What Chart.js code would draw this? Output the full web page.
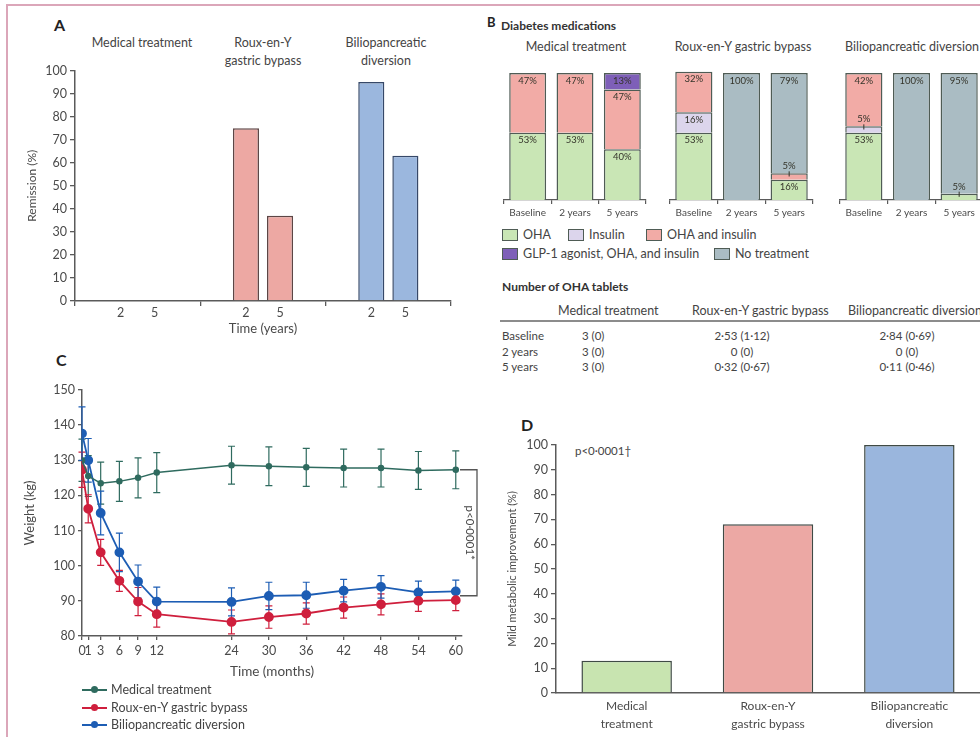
<!DOCTYPE html>
<html>
<head>
<meta charset="utf-8">
<script src="https://cdn.jsdelivr.net/npm/chart.js@4.4.0/dist/chart.umd.min.js"></script>
<style>
  body { margin: 0; background: #fff; overflow: hidden; }
  #fig { position: relative; width: 980px; height: 737px; overflow: hidden; font-family: Lato, 'Liberation Sans', sans-serif; color: #444; }
  .frame { position: absolute; left: 6px; top: 4px; width: 1000px; height: 800px; border-top: 2px solid #dba6b9; border-left: 2px solid #dba6b9; }
  canvas { position: absolute; }
  .t { position: absolute; white-space: nowrap; font-size: 12.5px; line-height: 14px; }
  .c { transform: translateX(-50%); text-align: center; }
  .letter { font-weight: bold; font-size: 16px; line-height: 18px; color: #222; }
  .bold { font-weight: bold; color: #333; }
  .box { position: absolute; width: 14px; height: 10px; border: 1.5px solid #4f5c55; }
  .tbl { font-size: 11.5px; line-height: 15.5px; }
  .rule { position: absolute; left: 500px; top: 320px; width: 480px; height: 2px; background: #8c8c8c; }
  .lg { position: absolute; left: 82px; width: 25px; height: 2px; }
  .lg i { position: absolute; left: 9px; top: -3px; width: 7px; height: 7px; border-radius: 50%; }
</style>
</head>
<body>
<div id="fig">
  <div class="frame"></div>

  <!-- A -->
  <div class="t letter" style="left:54px;top:16px">A</div>
  <div class="t c" style="left:142px;top:34px;line-height:18px">Medical treatment</div>
  <div class="t c" style="left:263px;top:34px;line-height:18px">Roux-en-Y<br>gastric bypass</div>
  <div class="t c" style="left:386px;top:34px;line-height:18px">Biliopancreatic<br>diversion</div>
  <canvas id="chartA" width="470" height="280" style="left:0;top:60px"></canvas>

  <!-- B -->
  <div class="t letter" style="left:487px;top:13px;font-size:13px">B</div>
  <div class="t bold" style="left:501px;top:19px;font-size:12px">Diabetes medications</div>
  <div class="t c" style="left:576px;top:40px">Medical treatment</div>
  <div class="t c" style="left:743px;top:40px">Roux-en-Y gastric bypass</div>
  <div class="t c" style="left:912px;top:40px">Biliopancreatic diversion</div>
  <canvas id="chartB1" width="150" height="160" style="left:500px;top:65px"></canvas>
  <canvas id="chartB2" width="151" height="160" style="left:666px;top:65px"></canvas>
  <canvas id="chartB3" width="151" height="160" style="left:836px;top:65px"></canvas>
  <div id="legendB"></div>

  <div class="t bold" style="left:502px;top:280px;font-size:12px">Number of OHA tablets</div>
  <div class="t" style="left:558px;top:304px">Medical treatment</div>
  <div class="t" style="left:692px;top:304px">Roux-en-Y gastric bypass</div>
  <div class="t" style="left:848px;top:304px">Biliopancreatic diversion</div>
  <div class="rule"></div>
  <div id="tableB"></div>

  <!-- C -->
  <div class="t letter" style="left:56px;top:351px">C</div>
  <canvas id="chartC" width="490" height="320" style="left:0;top:370px"></canvas>
  <div id="legendC"></div>

  <!-- D -->
  <div class="t letter" style="left:521px;top:416px">D</div>
  <div class="t" style="left:575px;top:444px;font-size:11.5px">p&lt;0·0001†</div>
  <canvas id="chartD" width="490" height="307" style="left:490px;top:430px"></canvas>
</div>

<script>
// A: remission
const remissionGroups = ['Medical treatment', 'Roux-en-Y gastric bypass', 'Biliopancreatic diversion'];
const remissionYears = ['2', '5'];
const remission2y = [0, 75, 95];
const remission5y = [0, 37, 63];

// B: diabetes medications (% of patients)
const medTimepoints = ['Baseline', '2 years', '5 years'];
const medicationClasses = ['OHA', 'Insulin', 'OHA and insulin', 'GLP-1 agonist, OHA, and insulin', 'No treatment'];
const medicalOHA = [53, 53, 40];
const medicalInsulin = [0, 0, 0];
const medicalOHAInsulin = [47, 47, 47];
const medicalGLP1 = [0, 0, 13];
const medicalNone = [0, 0, 0];
const rygbOHA = [53, 0, 16];
const rygbInsulin = [16, 0, 0];
const rygbOHAInsulin = [32, 0, 5];
const rygbGLP1 = [0, 0, 0];
const rygbNone = [0, 100, 79];
const bpdOHA = [53, 0, 5];
const bpdInsulin = [5, 0, 0];
const bpdOHAInsulin = [42, 0, 0];
const bpdGLP1 = [0, 0, 0];
const bpdNone = [0, 100, 95];

// B: number of OHA tablets
const ohaRows = ['Baseline', '2 years', '5 years'];
const ohaMedical = ['3 (0)', '3 (0)', '3 (0)'];
const ohaRygb = ['2·53 (1·12)', '0 (0)', '0·32 (0·67)'];
const ohaBpd = ['2·84 (0·69)', '0 (0)', '0·11 (0·46)'];

// C: weight (kg), mean and error
const weightMonths = [0, 1, 3, 6, 9, 12, 24, 30, 36, 42, 48, 54, 60];
const weightMedical = [130, 125.5, 123.5, 124, 125, 126.5, 128.6, 128.3, 128, 127.8, 127.8, 127.1, 127.3];
const weightMedicalErr = [6, 5.8, 6, 5.7, 5.7, 5.7, 5.4, 5.5, 5.4, 5.4, 5.4, 5.4, 5.4];
const weightRygb = [127.3, 116.2, 103.8, 95.7, 89.8, 86.2, 84, 85.4, 86.4, 88.1, 89, 90, 90.2];
const weightRygbErr = [5, 4, 3.7, 3, 4, 3.7, 3.4, 3.2, 3, 3, 3, 3, 3];
const weightBpd = [137.6, 130, 115, 103.8, 95.5, 89.8, 89.7, 91.4, 91.6, 92.9, 94, 92.4, 92.7];
const weightBpdErr = [7.6, 6.2, 6.2, 5.5, 4.7, 4.1, 4, 3.9, 3.7, 3.2, 3.2, 3.2, 3.2];
const weightSeries = ['Medical treatment', 'Roux-en-Y gastric bypass', 'Biliopancreatic diversion'];

// D: mild metabolic improvement
const improvementGroups = [['Medical', 'treatment'], ['Roux-en-Y', 'gastric bypass'], ['Biliopancreatic', 'diversion']];
const improvementPct = [13, 68, 100];

// styles
const axisColor = '#5a5a5a';
const groupFill = ['#ffffff', '#eda8a3', '#9bb7de'];
const groupBorder = ['#555555', '#5c4646', '#364868'];
const medicationFill = ['#c9e6b5', '#dcd5ec', '#f2aba6', '#7e5fb8', '#aabcc3'];
const lineColors = ['#2f6b5f', '#cf1f3d', '#1d5db4'];
const improvementFill = ['#c8e4b0', '#eca8a4', '#9ab6dd'];

Chart.defaults.font.family = "Lato, 'Liberation Sans', sans-serif";
Chart.defaults.color = '#4a4a4a';
Chart.defaults.animation = false;
Chart.defaults.plugins.legend.display = false;
Chart.defaults.plugins.tooltip.enabled = false;

// "2" / "5" under each bar of panel A
const yearLabels = {
  id: 'yearLabels',
  afterDraw(chart) {
    const ctx = chart.ctx;
    ctx.save();
    ctx.font = "12.5px Lato, 'Liberation Sans', sans-serif";
    ctx.fillStyle = '#4a4a4a';
    ctx.textAlign = 'center';
    ctx.textBaseline = 'middle';
    chart.data.datasets.forEach((ds, i) => {
      chart.getDatasetMeta(i).data.forEach(bar => {
        ctx.fillText(remissionYears[i], bar.x, chart.chartArea.bottom + 12);
      });
    });
    ctx.restore();
  }
};

// percentage labels in stacked bars of panel B
const segmentLabels = {
  id: 'segmentLabels',
  afterDatasetsDraw(chart) {
    const ctx = chart.ctx;
    ctx.save();
    ctx.font = "9.5px Lato, 'Liberation Sans', sans-serif";
    ctx.fillStyle = '#34342a';
    ctx.strokeStyle = '#34342a';
    ctx.lineWidth = 1;
    ctx.textAlign = 'center';
    ctx.textBaseline = 'middle';
    chart.data.datasets.forEach((ds, i) => {
      chart.getDatasetMeta(i).data.forEach((bar, j) => {
        const v = ds.data[j];
        if (!v) return;
        const top = Math.min(bar.y, bar.base);
        const h = Math.abs(bar.base - bar.y);
        if (h > 10) {
          ctx.fillText(v + '%', bar.x, top + 7.5);
        } else {
          ctx.fillText(v + '%', bar.x, top - 7);
          ctx.beginPath();
          ctx.moveTo(bar.x, top - 2);
          ctx.lineTo(bar.x, top + h / 2);
          ctx.stroke();
        }
      });
    });
    ctx.restore();
  }
};

// error bars for panel C
const errorBars = {
  id: 'errorBars',
  beforeDatasetsDraw(chart) {
    const { ctx, scales: { x, y } } = chart;
    chart.data.datasets.forEach(ds => {
      ctx.save();
      ctx.strokeStyle = ds.borderColor;
      ctx.lineWidth = 1.2;
      ds.data.forEach((p, j) => {
        const px = x.getPixelForValue(p.x);
        const top = y.getPixelForValue(p.y + ds.errors[j]);
        const bot = y.getPixelForValue(p.y - ds.errors[j]);
        ctx.beginPath();
        ctx.moveTo(px, top); ctx.lineTo(px, bot);
        ctx.moveTo(px - 3.5, top); ctx.lineTo(px + 3.5, top);
        ctx.moveTo(px - 3.5, bot); ctx.lineTo(px + 3.5, bot);
        ctx.stroke();
      });
      ctx.restore();
    });
  }
};

// p-value bracket at 60 months
const pBracket = {
  id: 'pBracket',
  afterDraw(chart) {
    const { ctx, chartArea, scales: { y } } = chart;
    const last = weightMonths.length - 1;
    const yTop = y.getPixelForValue(weightMedical[last]);
    const yBot = y.getPixelForValue((weightRygb[last] + weightBpd[last]) / 2);
    const x0 = chartArea.right - 2;
    const x1 = chartArea.right + 15;
    ctx.save();
    ctx.strokeStyle = '#555';
    ctx.lineWidth = 1.3;
    ctx.beginPath();
    ctx.moveTo(x0, yTop); ctx.lineTo(x1, yTop); ctx.lineTo(x1, yBot); ctx.lineTo(x0, yBot);
    ctx.stroke();
    ctx.translate(x1 - 7, (yTop + yBot) / 2);
    ctx.rotate(Math.PI / 2);
    ctx.font = "11.5px Lato, 'Liberation Sans', sans-serif";
    ctx.fillStyle = '#444';
    ctx.textAlign = 'center';
    ctx.textBaseline = 'middle';
    ctx.fillText('p<0·0001*', 0, 0);
    ctx.restore();
  }
};

const tickGrid = { drawOnChartArea: false, tickLength: 5, color: axisColor, lineWidth: 1.3 };
const axisBorder = { color: axisColor, width: 1.5 };

// Panel A
new Chart(document.getElementById('chartA'), {
  type: 'bar',
  data: {
    labels: remissionGroups,
    datasets: [remission2y, remission5y].map((values, i) => ({
      label: remissionYears[i] + ' years',
      data: values,
      backgroundColor: groupFill,
      borderColor: groupBorder,
      borderWidth: c => (c.raw ? 1.5 : 0),
      categoryPercentage: 0.544,
      barPercentage: 0.765
    }))
  },
  options: {
    responsive: false,
    layout: { padding: { top: 5, right: 19, bottom: 0, left: 0 } },
    scales: {
      x: {
        grid: { ...tickGrid, offset: true },
        border: axisBorder,
        ticks: { display: false },
        title: { display: true, text: 'Time (years)', font: { size: 13 }, padding: { top: 0, bottom: 3 } },
        afterFit: s => { s.height = 39; }
      },
      y: {
        min: 0, max: 100,
        ticks: { stepSize: 10, padding: 3, font: { size: 12.5 } },
        grid: tickGrid,
        border: axisBorder,
        title: { display: true, text: 'Remission (%)', font: { size: 12 }, padding: { top: 25, bottom: 0 } },
        afterFit: s => { s.width = 75; }
      }
    }
  },
  plugins: [yearLabels]
});

// Panel B
function medicationChart(canvasId, series) {
  return new Chart(document.getElementById(canvasId), {
    type: 'bar',
    data: {
      labels: medTimepoints,
      datasets: series.map((values, k) => ({
        label: medicationClasses[k],
        data: values,
        backgroundColor: medicationFill[k],
        borderColor: '#4f5c55',
        borderWidth: c => (c.raw ? 1.5 : 0),
        barPercentage: 0.78,
        categoryPercentage: 1,
        clip: false
      }))
    },
    options: {
      responsive: false,
      layout: { padding: { top: 8, left: 4, right: 4, bottom: 0 } },
      scales: {
        x: {
          stacked: true,
          grid: { drawOnChartArea: false, offset: true, tickLength: 4, color: axisColor, lineWidth: 1.2 },
          border: { color: axisColor, width: 1.2 },
          ticks: { padding: 3, font: { size: 10 } },
          afterFit: s => { s.height = 25; }
        },
        y: { stacked: true, display: false, min: 0, max: 100 }
      }
    },
    plugins: [segmentLabels]
  });
}
medicationChart('chartB1', [medicalOHA, medicalInsulin, medicalOHAInsulin, medicalGLP1, medicalNone]);
medicationChart('chartB2', [rygbOHA, rygbInsulin, rygbOHAInsulin, rygbGLP1, rygbNone]);
medicationChart('chartB3', [bpdOHA, bpdInsulin, bpdOHAInsulin, bpdGLP1, bpdNone]);

// legend for B
const legendB = document.getElementById('legendB');
const legendSpots = [[502, 229], [568, 229], [646, 229], [502, 248], [714, 248]];
medicationClasses.forEach((name, k) => {
  const [x, y] = legendSpots[k];
  legendB.insertAdjacentHTML('beforeend',
    `<div class="box" style="left:${x}px;top:${y}px;background:${medicationFill[k]}"></div>` +
    `<div class="t" style="left:${x + 21}px;top:${y - 1}px">${name}</div>`);
});

// table for B
const tableB = document.getElementById('tableB');
ohaRows.forEach((row, i) => {
  const top = 328 + i * 15.5;
  tableB.insertAdjacentHTML('beforeend',
    `<div class="t tbl" style="left:502px;top:${top}px">${row}</div>` +
    `<div class="t tbl" style="left:582px;top:${top}px">${ohaMedical[i]}</div>` +
    `<div class="t tbl c" style="left:742px;top:${top}px">${ohaRygb[i]}</div>` +
    `<div class="t tbl c" style="left:907px;top:${top}px">${ohaBpd[i]}</div>`);
});

// Panel C
const toPoints = values => values.map((v, i) => ({ x: weightMonths[i], y: v }));
new Chart(document.getElementById('chartC'), {
  type: 'line',
  data: {
    datasets: [
      [weightMedical, weightMedicalErr, 2.5, 1.5],
      [weightRygb, weightRygbErr, 4, 1.8],
      [weightBpd, weightBpdErr, 4, 1.8]
    ].map(([values, errs, r, w], i) => ({
      label: weightSeries[i],
      data: toPoints(values),
      errors: errs,
      borderColor: lineColors[i],
      backgroundColor: lineColors[i],
      borderWidth: w,
      pointRadius: r,
      tension: 0
    }))
  },
  options: {
    responsive: false,
    layout: { padding: { top: 20, right: 28, bottom: 0, left: 0 } },
    scales: {
      x: {
        type: 'linear', min: 0, max: 61,
        afterBuildTicks: s => { s.ticks = weightMonths.map(v => ({ value: v })); },
        ticks: { autoSkip: false, maxRotation: 0, padding: 3, font: { size: 12.5 } },
        grid: { ...tickGrid, tickLength: 4 },
        border: axisBorder,
        title: { display: true, text: 'Time (months)', font: { size: 13.5 }, padding: { top: 0, bottom: 10 } },
        afterFit: s => { s.height = 54; }
      },
      y: {
        min: 80, max: 150,
        ticks: { stepSize: 10, padding: 3, font: { size: 12.5 } },
        grid: { ...tickGrid, tickLength: 4 },
        border: axisBorder,
        title: { display: true, text: 'Weight (kg)', font: { size: 13 }, padding: { top: 22, bottom: 0 } },
        afterFit: s => { s.width = 82; }
      }
    }
  },
  plugins: [errorBars, pBracket]
});

// legend for C
const legendC = document.getElementById('legendC');
weightSeries.forEach((name, i) => {
  const cy = 690 + i * 17.5;
  legendC.insertAdjacentHTML('beforeend',
    `<div class="lg" style="top:${cy - 1}px;background:${lineColors[i]}"><i style="background:${lineColors[i]}"></i></div>` +
    `<div class="t" style="left:111px;top:${cy - 7}px;font-size:12.5px">${name}</div>`);
});

// Panel D
new Chart(document.getElementById('chartD'), {
  type: 'bar',
  data: {
    labels: improvementGroups,
    datasets: [{
      label: 'Mild metabolic improvement',
      data: improvementPct,
      backgroundColor: improvementFill,
      borderColor: '#3f4a45',
      borderWidth: 1.5,
      barPercentage: 0.64,
      categoryPercentage: 1
    }]
  },
  options: {
    responsive: false,
    layout: { padding: { top: 15, right: 0, bottom: 0, left: 0 } },
    scales: {
      x: {
        grid: { display: false, drawTicks: false },
        border: axisBorder,
        ticks: { padding: 4, font: { size: 12, lineHeight: 1.5 } },
        afterFit: s => { s.height = 44; }
      },
      y: {
        min: 0, max: 100,
        ticks: { stepSize: 10, padding: 3, font: { size: 12.5 } },
        grid: tickGrid,
        border: axisBorder,
        title: { display: true, text: 'Mild metabolic improvement (%)', font: { size: 11 }, padding: { top: 16, bottom: 0 } },
        afterFit: s => { s.width = 66; }
      }
    }
  }
});
</script>
</body>
</html>
